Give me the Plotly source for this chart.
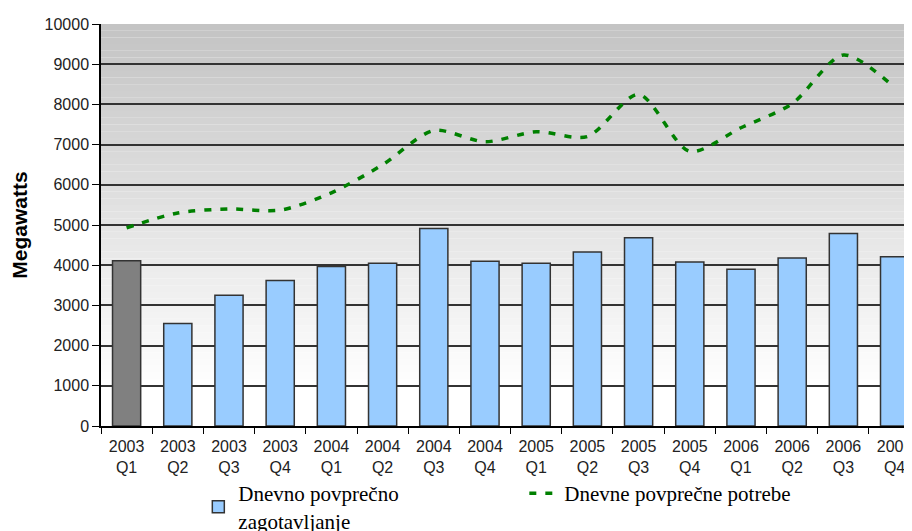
import plotly.graph_objects as go

categories = ["2003<br>Q1", "2003<br>Q2", "2003<br>Q3", "2003<br>Q4",
              "2004<br>Q1", "2004<br>Q2", "2004<br>Q3", "2004<br>Q4",
              "2005<br>Q1", "2005<br>Q2", "2005<br>Q3", "2005<br>Q4",
              "2006<br>Q1", "2006<br>Q2", "2006<br>Q3", "2006<br>Q4"]
supply = [4110, 2550, 3250, 3620, 3970, 4050, 4910, 4100,
          4050, 4330, 4680, 4080, 3900, 4180, 4790, 4210]
demand = [4930, 5300, 5400, 5370, 5800, 6500, 7350, 7070,
          7320, 7200, 8250, 6830, 7420, 8020, 9230, 8420]

supply_name = "Dnevno povprečno<br>zagotavljanje"
demand_name = "Dnevne povprečne potrebe"

fig = go.Figure()

# background gradient bands (styling only)
n_bands = 60
for i in range(n_bands):
    y0 = i / n_bands
    y1 = (i + 1) / n_bands
    t = (y0 + y1) / 2
    if t < 0.1:
        c = 255
    else:
        c = int(round(255 - (255 - 195) * (t - 0.1) / 0.9))
    fig.add_shape(type="rect", xref="paper", yref="paper", x0=0, x1=1, y0=y0, y1=y1,
                  fillcolor=f"rgb({c},{c},{c})", line=dict(width=0), layer="below")

fig.add_trace(go.Bar(
    x=categories[:1], y=supply[:1], name=supply_name, showlegend=False,
    marker=dict(color="#808080", line=dict(color="#333333", width=1.5)), width=0.55))
fig.add_trace(go.Bar(
    x=categories[1:], y=supply[1:], name=supply_name,
    marker=dict(color="#99ccff", line=dict(color="#333333", width=1.5)), width=0.55))
fig.add_trace(go.Scatter(
    x=categories, y=demand, name=demand_name, mode="lines",
    line=dict(color="#008000", width=3.5, dash="7px,9px", shape="spline", smoothing=0.8)))

fig.update_layout(
    width=904, height=523,
    margin=dict(l=93, r=0, t=16, b=105, autoexpand=False),
    paper_bgcolor="white", plot_bgcolor="rgba(0,0,0,0)",
    barmode="overlay",
    font=dict(family="Arial, Liberation Sans", size=16, color="#222222"),
    xaxis=dict(categoryorder="array", categoryarray=categories, automargin=False,
               range=[-0.5, 15.34], showline=True, linecolor="black", linewidth=1.5,
               ticks="outside", tickson="boundaries", ticklen=6, tickcolor="black",
               showgrid=False, tickfont=dict(size=16), ticklabelstandoff=5),
    yaxis=dict(range=[0, 10000], dtick=1000, tickformat="d", automargin=False,
               showline=True, linecolor="black", linewidth=1.5,
               ticks="outside", ticklen=7, tickcolor="black",
               gridcolor="#333333", gridwidth=1.5, zeroline=False,
               tickfont=dict(size=16),
               title=dict(text="<b>Megawatts</b>", font=dict(size=21, color="black"), standoff=12)),
    legend=dict(orientation="h", x=0.12, xanchor="left", y=-0.117, yanchor="top",
                font=dict(family="Liberation Serif, Times New Roman", size=21, color="black"),
                entrywidth=281, bgcolor="rgba(0,0,0,0)", traceorder="normal", valign="middle"),
)

fig.write_html("out.html")
